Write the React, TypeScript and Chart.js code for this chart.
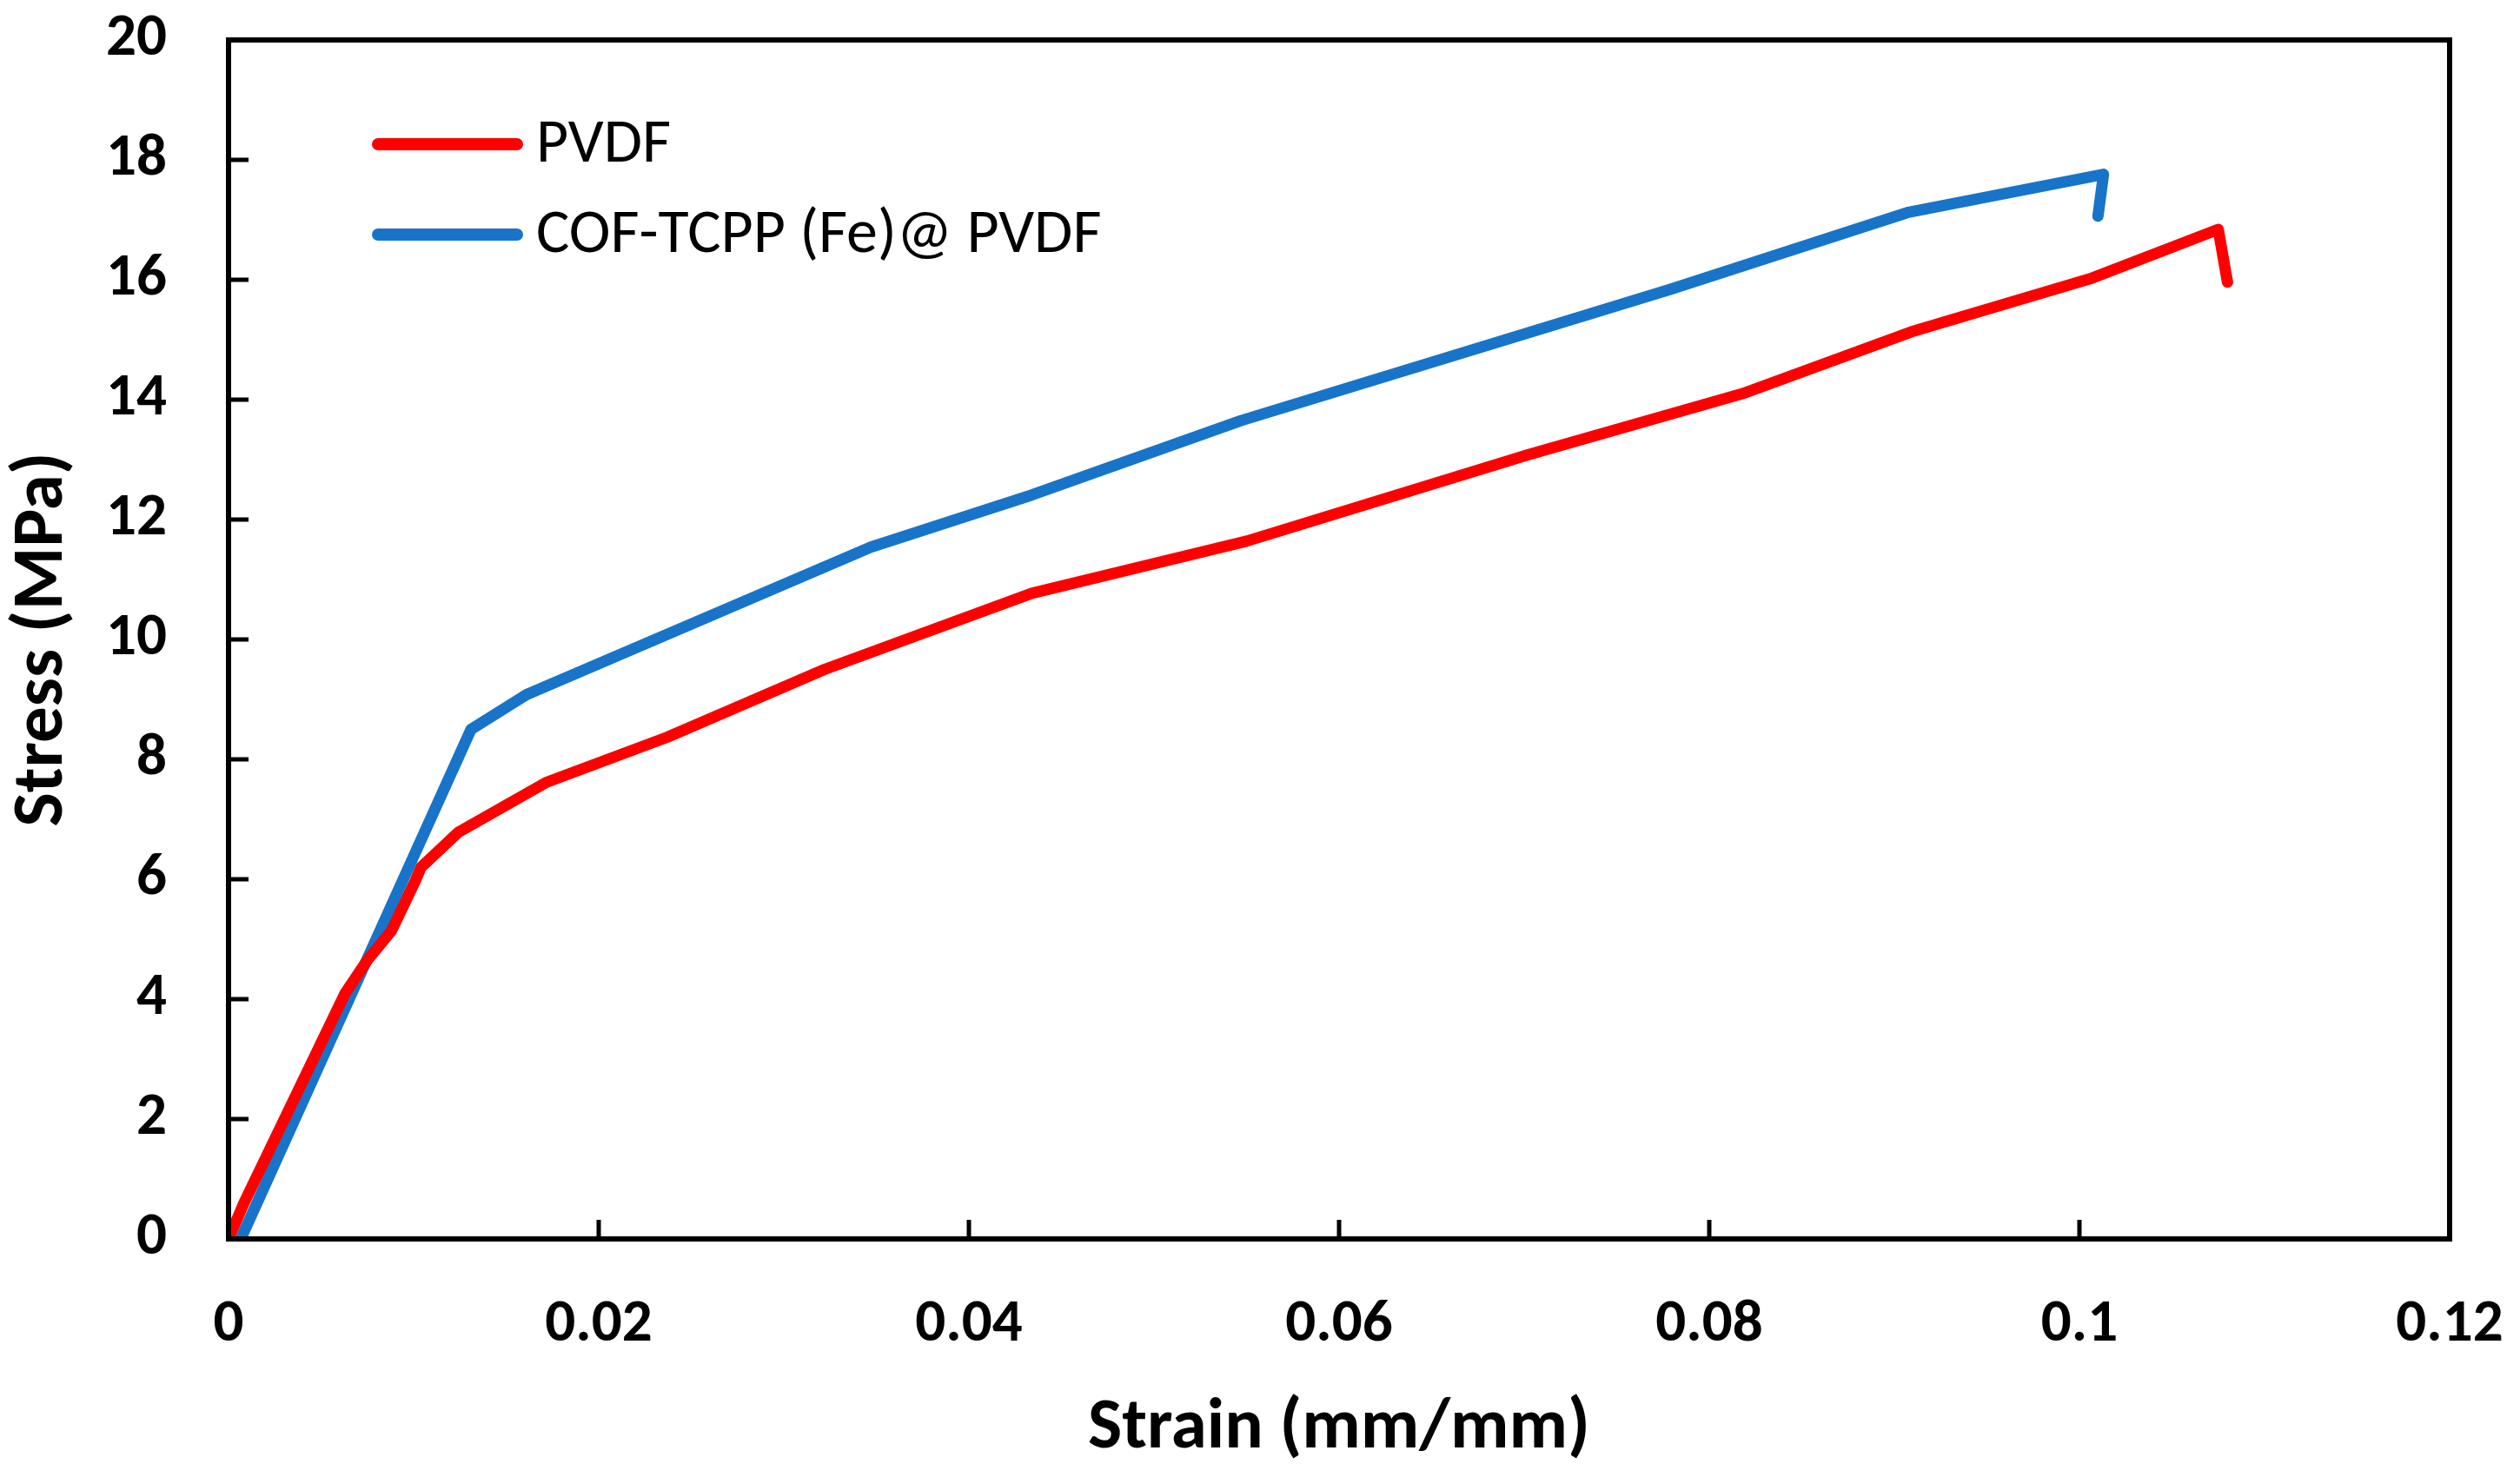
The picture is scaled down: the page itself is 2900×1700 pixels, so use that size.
import React, { useEffect, useRef } from "react";
import { Chart, registerables } from "chart.js";

Chart.register(...registerables);

// ---- data ----
const pvdfStrain = [0, 0.00085, 0.0063, 0.0075, 0.0088, 0.0101, 0.0104, 0.0124, 0.0172, 0.0237, 0.0322, 0.0434, 0.055, 0.0702, 0.0818, 0.0909, 0.1007, 0.1075, 0.108];
const pvdfStress = [0, 0.61, 4.1, 4.65, 5.14, 5.98, 6.2, 6.78, 7.62, 8.37, 9.5, 10.77, 11.64, 13.08, 14.1, 15.13, 16.03, 16.84, 15.96];

const cofStrain = [0.00066, 0.0131, 0.0161, 0.0347, 0.0434, 0.0547, 0.0779, 0.0907, 0.1013, 0.101];
const cofStress = [0, 8.5, 9.08, 11.54, 12.41, 13.65, 15.84, 17.12, 17.76, 17.06];

const seriesLabels = ["PVDF", "COF-TCPP (Fe)@ PVDF"];
const seriesColors = ["#FF0000", "#1874C9"];

const xTicks = [0, 0.02, 0.04, 0.06, 0.08, 0.1, 0.12];
const yTicks = [0, 2, 4, 6, 8, 10, 12, 14, 16, 18, 20];

const xTitle = "Strain (mm/mm)";
const yTitle = "Stress (MPa)";

const FONT = "Carlito, Lato, 'Noto Sans', sans-serif";

const toPoints = (xs: number[], ys: number[]) => xs.map((x, i) => ({ x, y: ys[i] }));

const zeroPadding = (scale: any) => {
  scale.paddingTop = 0;
  scale.paddingBottom = 0;
  scale.paddingLeft = 0;
  scale.paddingRight = 0;
};

const framePlugin = {
  id: "frameAndTicks",
  afterDatasetsDraw(chart: any) {
    const { ctx, chartArea } = chart;
    const { left, right, top, bottom } = chartArea;
    const xs = chart.scales.x;
    const ys = chart.scales.y;
    ctx.save();
    ctx.strokeStyle = "#000";
    ctx.lineCap = "butt";
    ctx.lineWidth = 5;
    xs.ticks.forEach((t: any) => {
      const px = xs.getPixelForValue(t.value);
      ctx.beginPath();
      ctx.moveTo(px, bottom);
      ctx.lineTo(px, bottom - 22);
      ctx.stroke();
    });
    ys.ticks.forEach((t: any) => {
      const py = ys.getPixelForValue(t.value);
      ctx.beginPath();
      ctx.moveTo(left, py);
      ctx.lineTo(left + 23, py);
      ctx.stroke();
    });
    ctx.lineWidth = 6;
    ctx.lineJoin = "miter";
    ctx.strokeRect(left, top, right - left, bottom - top);
    ctx.restore();
  },
  afterDraw(chart: any) {
    const { ctx, chartArea } = chart;
    ctx.save();
    chart.data.datasets.forEach((ds: any, i: number) => {
      const y = chartArea.top + 120 + i * 104;
      const x0 = chartArea.left + 172;
      const x1 = chartArea.left + 332;
      ctx.strokeStyle = ds.borderColor;
      ctx.lineWidth = 14;
      ctx.lineCap = "round";
      ctx.beginPath();
      ctx.moveTo(x0, y);
      ctx.lineTo(x1, y);
      ctx.stroke();
      ctx.fillStyle = "#000";
      ctx.font = `normal 72px ${FONT}`;
      ctx.textAlign = "left";
      ctx.textBaseline = "middle";
      ctx.fillText(ds.label, chartArea.left + 354, y + 2);
    });
    ctx.restore();
  },
};

export default function App() {
  const canvasRef = useRef<HTMLCanvasElement | null>(null);

  useEffect(() => {
    const canvas = canvasRef.current;
    if (!canvas) return;
    const chart = new Chart(canvas, {
      type: "line",
      data: {
        datasets: [
          {
            label: seriesLabels[0],
            data: toPoints(pvdfStrain, pvdfStress),
            borderColor: seriesColors[0],
            backgroundColor: seriesColors[0],
            borderWidth: 13,
            pointRadius: 0,
            borderCapStyle: "round",
            borderJoinStyle: "round",
            tension: 0,
          },
          {
            label: seriesLabels[1],
            data: toPoints(cofStrain, cofStress),
            borderColor: seriesColors[1],
            backgroundColor: seriesColors[1],
            borderWidth: 13,
            pointRadius: 0,
            borderCapStyle: "round",
            borderJoinStyle: "round",
            tension: 0,
          },
        ],
      },
      options: {
        responsive: false,
        animation: false,
        devicePixelRatio: 1,
        layout: { padding: { left: 0, top: 46, right: 81, bottom: 5 } },
        plugins: {
          legend: { display: false },
          tooltip: { enabled: false },
        },
        scales: {
          x: {
            type: "linear",
            min: 0,
            max: 0.12,
            afterBuildTicks: (scale: any) => {
              scale.ticks = xTicks.map((v) => ({ value: v }));
            },
            afterFit: (scale: any) => {
              scale.height = 269;
              zeroPadding(scale);
            },
            grid: { display: false, drawTicks: false },
            border: { display: false },
            ticks: {
              padding: 58,
              color: "#000",
              font: { family: FONT, size: 69, weight: "bold" },
              maxRotation: 0,
              autoSkip: false,
              callback: (v: any) => String(Math.round(Number(v) * 100) / 100),
            },
            title: {
              display: true,
              text: xTitle,
              color: "#000",
              font: { family: FONT, size: 83, weight: "bold" },
              padding: 0,
            },
          },
          y: {
            type: "linear",
            min: 0,
            max: 20,
            afterBuildTicks: (scale: any) => {
              scale.ticks = yTicks.map((v) => ({ value: v }));
            },
            afterFit: (scale: any) => {
              scale.width = 263;
              zeroPadding(scale);
            },
            grid: { display: false, drawTicks: false },
            border: { display: false },
            ticks: {
              padding: 71,
              color: "#000",
              font: { family: FONT, size: 69, weight: "bold" },
              autoSkip: false,
              callback: (v: any) => String(v),
            },
            title: {
              display: true,
              text: yTitle,
              color: "#000",
              font: { family: FONT, size: 83, weight: "bold" },
              padding: 0,
            },
          },
        },
      },
      plugins: [framePlugin],
    });
    return () => chart.destroy();
  }, []);

  return (
    <div style={{ position: "fixed", left: 0, top: 0, width: 2900, height: 1700, background: "#fff" }}>
      <canvas ref={canvasRef} width={2900} height={1700} style={{ width: 2900, height: 1700, display: "block" }} />
    </div>
  );
}
